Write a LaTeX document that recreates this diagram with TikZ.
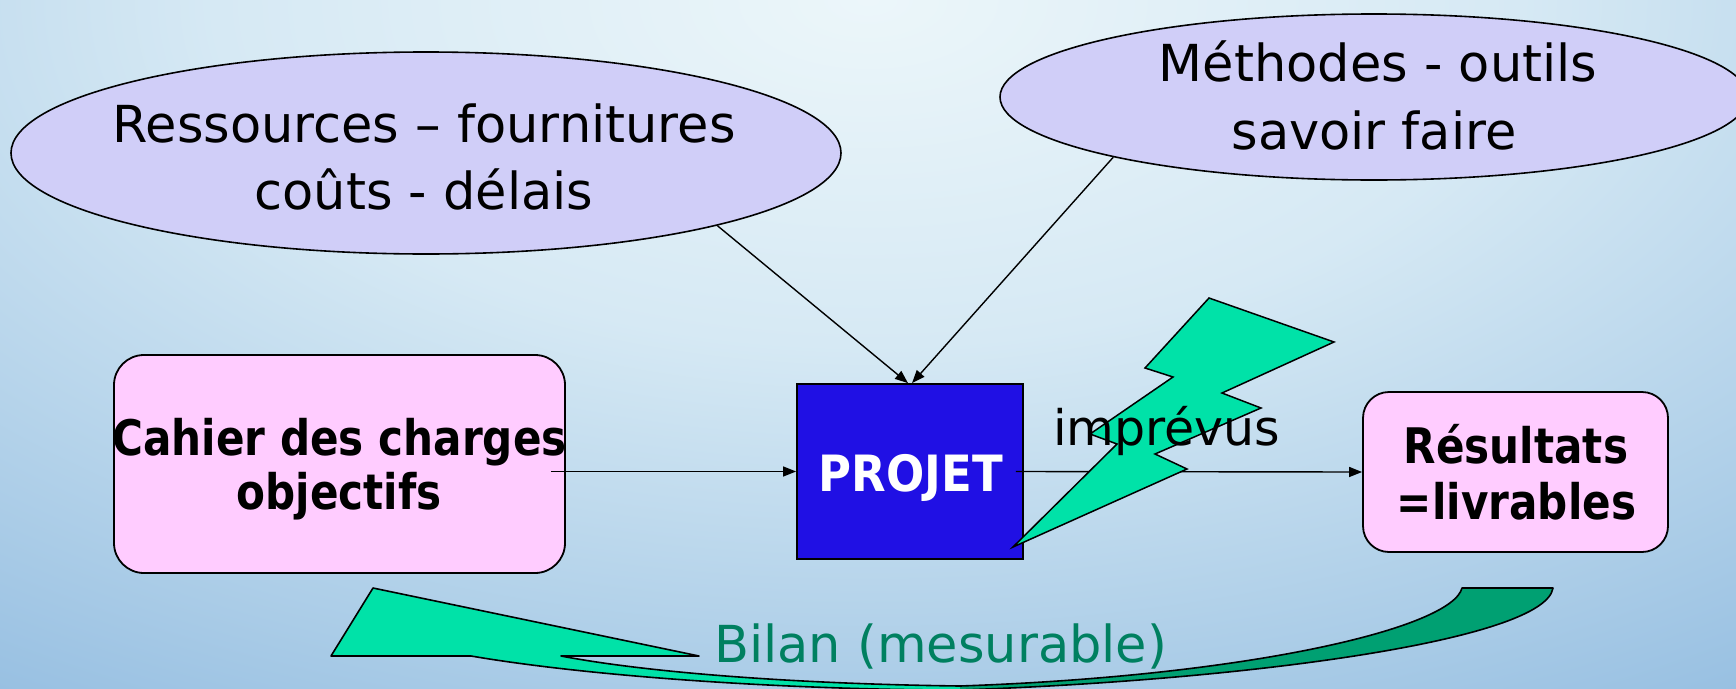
\documentclass[tikz,border=0pt]{standalone}
\usepackage{fontspec}
\setmainfont{DejaVu Sans}
\newfontfamily\condfont{DejaVu Sans}[FakeStretch=0.86]
\newfontfamily\projfont{DejaVu Sans}[FakeStretch=0.9]
\usetikzlibrary{arrows.meta,shapes.geometric}

\definecolor{bubblefill}{RGB}{208,206,248}
\definecolor{cardfill}{RGB}{255,204,255}
\definecolor{corefill}{RGB}{32,16,228}
\definecolor{boltgreen}{RGB}{0,226,168}
\definecolor{backgreen}{RGB}{0,160,114}
\definecolor{bilantext}{RGB}{0,128,96}

% soft sky background, lightest at the top centre
\pgfdeclareradialshading{skyglow}{\pgfpoint{0bp}{0bp}}{%
  rgb(0bp)=(0.925,0.965,0.980);
  rgb(25bp)=(0.839,0.914,0.957);
  rgb(33bp)=(0.784,0.878,0.941);
  rgb(50bp)=(0.667,0.800,0.906);
  rgb(60bp)=(0.596,0.753,0.886);
  rgb(80bp)=(0.596,0.753,0.886)}

\begin{document}
\begin{tikzpicture}[x=1pt,y=-1pt,
  bubble/.style={ellipse, draw=black, line width=1.6pt, fill=bubblefill, inner sep=0pt},
  card/.style={rectangle, rounded corners=30pt, draw=black, line width=1.8pt, fill=cardfill, inner sep=0pt},
  core/.style={rectangle, draw=black, line width=1.8pt, fill=corefill, inner sep=0pt},
  plain/.style={font=\fontsize{51}{51}\selectfont, inner sep=0pt, anchor=base},
  heavy/.style={font=\condfont\bfseries\fontsize{49}{49}\selectfont, inner sep=0pt, anchor=base},
  link/.style={line width=1.4pt, -{Triangle[length=13pt,width=10pt]}},
  ribbon/.style={draw=black, line width=1.6pt, line join=round}]

\useasboundingbox (0,0) rectangle (1736,688);
\clip (0,0) rectangle (1736,688);
% background glow centred at the top edge, stretched wider than tall
\begin{pgfscope}
  \pgftransformshift{\pgfpoint{868pt}{0pt}}
  \pgftransformcm{26}{0}{0}{13.76}{\pgfpointorigin}
  \pgflowlevelsynccm
  \pgfuseshading{skyglow}
\end{pgfscope}

% input bubbles
\node[bubble, minimum width=830pt, minimum height=202pt] (lres) at (426,153) {};
\node[bubble, minimum width=748pt, minimum height=166pt] (meth) at (1374,97) {};
\node[plain] (tres1) at (424,142) {Ressources – fournitures};
\node[plain] (tres2) at (424,209) {coûts - délais};
\node[plain] (tmeth1) at (1378,81) {Méthodes - outils};
\node[plain] (tmeth2) at (1374,149) {savoir faire};

% main boxes
\node[card, minimum width=451pt, minimum height=218pt] (cdc) at (339.5,464) {};
\node[card, rounded corners=26pt, minimum width=305pt, minimum height=160pt] (res) at (1515.5,472) {};
\node[core, minimum width=226pt, minimum height=175pt] (proj) at (910,471.5) {};

% connectors
\draw[link] (lres.346.4) -- ([xshift=-2pt]proj.north);
\draw[link] (meth.193.5) -- ([xshift=2pt]proj.north);
\draw[link] ([xshift=-15pt]cdc.east |- proj.west) -- (proj.west);
\draw[link] ([xshift=-8pt]proj.east) -- (res.west);

% lightning bolt
\draw[fill=boltgreen, line width=1.5pt, line join=miter]
  (1209,298) -- (1334,342) -- (1222,393) -- (1261,408) -- (1155,454)
  -- (1187,469) -- (1013,547) -- (1117,444) -- (1090,434)
  -- (1173,377) -- (1145,368) -- cycle;

% box labels
\node[heavy] (tcdc1) at (339.5,455) {Cahier des charges};
\node[heavy] (tcdc2) at (339,509) {objectifs};
\node[heavy, font=\projfont\bfseries\fontsize{50}{50}\selectfont, text=white] (tproj) at (911,491) {PROJET};
\node[heavy] (tres3) at (1516,463) {Résultats};
\node[heavy] (tres4) at (1516.5,519) {=livrables};
\node[plain, anchor=base west, font=\fontsize{49}{49}\selectfont] (tunf) at (1053,445) {imprévus};

% curved feedback arrow
\fill[boltgreen] (373,588) -- (331,656) -- (471,656)
  .. controls (600,678) and (800,690) .. (960,690) -- (960,686)
  .. controls (800,684) and (650,673) .. (561,656) -- (699,656) -- cycle;
\fill[backgreen] (960,690) .. controls (1250,680) and (1545,640) .. (1553,588)
  -- (1462,588) .. controls (1452,628) and (1250,676) .. (960,686) -- cycle;
\draw[ribbon] (1462,588) -- (1553,588)
  .. controls (1545,640) and (1250,680) .. (960,690)
  .. controls (800,690) and (600,678) .. (471,656)
  -- (331,656) -- (373,588) -- (699,656) -- (561,656)
  .. controls (650,673) and (800,684) .. (960,686)
  .. controls (1250,676) and (1452,628) .. (1462,588) -- cycle;
\node[plain, anchor=base west, text=bilantext] (tbilan) at (714,662) {Bilan (mesurable)};

\end{tikzpicture}
\end{document}
